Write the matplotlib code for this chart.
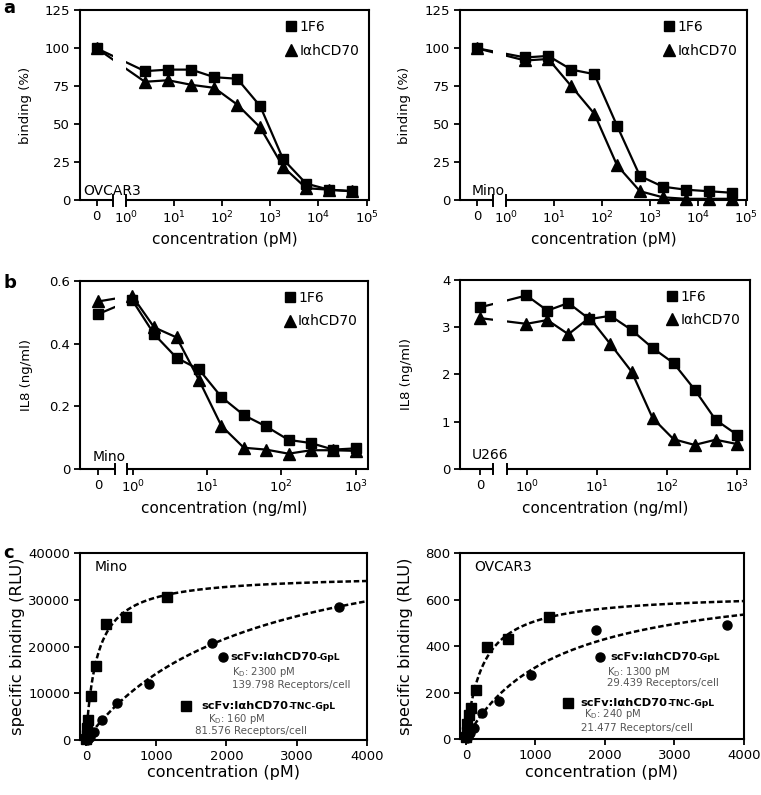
import numpy as np
import matplotlib
matplotlib.use("Agg")
import matplotlib.pyplot as plt
import matplotlib.transforms as mtransforms
from matplotlib.lines import Line2D

plt.rcParams['font.family'] = ['DejaVu Sans']
plt.rcParams['axes.linewidth'] = 1.5

# ---- a: competition binding, first value of each series = 0 pM control ----
conc_a = [2.5, 7.6, 23, 69, 206, 617, 1850, 5560, 16700, 50000]
ovcar3_1f6 = [100, 85, 86, 86, 81, 80, 62, 27, 11, 7, 6]
ovcar3_iahcd70 = [100, 78, 79, 76, 74, 63, 48, 22, 8, 7, 6]
mino_1f6 = [100, 94, 95, 86, 83, 49, 16, 9, 7, 6, 5]
mino_iahcd70 = [100, 92, 93, 75, 57, 23, 6, 2, 1, 1, 1]

# ---- b: IL8 release, first value = 0 ng/ml control ----
conc_b = [0.98, 1.95, 3.9, 7.8, 15.6, 31.3, 62.5, 125, 250, 500, 1000]
mino_il8_1f6 = [0.495, 0.54, 0.43, 0.355, 0.318, 0.23, 0.172, 0.136, 0.093, 0.083, 0.062, 0.066]
mino_il8_iahcd70 = [0.535, 0.553, 0.452, 0.42, 0.284, 0.138, 0.068, 0.062, 0.049, 0.06, 0.06, 0.058]
u266_il8_1f6 = [3.42, 3.67, 3.35, 3.51, 3.17, 3.24, 2.94, 2.56, 2.24, 1.68, 1.04, 0.73]
u266_il8_iahcd70 = [3.19, 3.07, 3.15, 2.85, 3.2, 2.64, 2.06, 1.08, 0.63, 0.51, 0.62, 0.53]

# ---- c: saturation binding ----
mino_tnc_x = [4.5, 9, 18, 36, 72, 144, 288, 575, 1150]
mino_tnc_y = [300, 1000, 2500, 4300, 9400, 15800, 24900, 26400, 30600]
mino_gpl_x = [14, 28, 56, 112, 225, 450, 900, 1800, 3600]
mino_gpl_y = [100, 300, 700, 1700, 4200, 8000, 11900, 20800, 28400]
ovcar3_tnc_x = [4.7, 9.4, 19, 37.5, 75, 150, 300, 600, 1200]
ovcar3_tnc_y = [10, 30, 65, 105, 135, 210, 397, 432, 525]
ovcar3_gpl_x = [15, 29, 59, 117, 235, 470, 940, 1875, 3750]
ovcar3_gpl_y = [5, 12, 26, 47, 112, 165, 277, 470, 492]

# one-site fits (Kd in pM, Bmax in RLU)
mino_fit = {'gpl': (2300, 46800), 'tnc': (160, 35400)}
ovcar3_fit = {'gpl': (1300, 709), 'tnc': (240, 629)}
mino_text = ['2300 pM', '139.798 Receptors/cell', '160 pM', '81.576 Receptors/cell']
ovcar3_text = ['1300 pM', '29.439 Receptors/cell', '240 pM', '21.477 Receptors/cell']

fig = plt.figure(figsize=(7.61, 7.95), dpi=100)

TICK = 9.5


def style(ax):
    ax.tick_params(direction='out', length=4, width=1.3, labelsize=TICK, pad=3,
                   top=False, right=False)


def dose_panel(rect, conc, sq, tri, zero_x, xlim, brk, ylim, yticks, yticklabels,
               ylabel, xlabel, cell, cell_xy, ndec, ylab_x):
    ax = fig.add_axes(rect)
    lx = np.log10(conc)
    for vals, mk, ms in [(sq, 's', 7.5), (tri, '^', 8.5)]:
        ax.plot(lx, vals[1:], color='k', lw=1.6, marker=mk, ms=ms, zorder=3, clip_on=False)
        ax.plot([zero_x, lx[0]], [vals[0], vals[1]], color='k', lw=1.6, marker=mk, ms=ms,
                markevery=[0], zorder=1.5, clip_on=False)
    ax.set_xlim(xlim)
    ax.set_ylim(ylim)
    ax.axvspan(brk[0], brk[1], color='white', lw=0, zorder=1.8)
    # broken x axis
    ax.spines['bottom'].set_visible(False)
    tr = mtransforms.blended_transform_factory(ax.transData, ax.transAxes)
    for xa, xb in [(xlim[0], brk[0]), (brk[1], xlim[1])]:
        ax.plot([xa, xb], [0, 0], color='k', lw=1.5, transform=tr, clip_on=False,
                solid_capstyle='butt', zorder=4)
    for xb in brk:
        ax.plot([xb, xb], [-0.028, 0.028], color='k', lw=1.4, transform=tr, clip_on=False, zorder=4)
    ax.set_xticks([zero_x] + list(range(ndec + 1)))
    ax.set_xticklabels(['0'] + ['10$^{%d}$' % k for k in range(ndec + 1)])
    ax.set_yticks(yticks)
    ax.set_yticklabels(yticklabels)
    style(ax)
    ax.set_ylabel(ylabel, fontsize=9.5)
    ax.yaxis.set_label_coords(ylab_x, 0.5)
    ax.set_xlabel(xlabel, fontsize=11)
    ax.text(cell_xy[0], cell_xy[1], cell, transform=ax.transAxes, fontsize=10,
            va='center', ha='left')
    handles = [Line2D([], [], color='k', marker='s', ms=7.5, ls='none'),
               Line2D([], [], color='k', marker='^', ms=8.5, ls='none')]
    ax.legend(handles, ['1F6', 'I\u03b1hCD70'], loc='upper right', frameon=False,
              fontsize=10, handlelength=0.8, handletextpad=0.2, labelspacing=0.7,
              borderaxespad=0.3, borderpad=0.4, bbox_to_anchor=(1.0, 1.0))
    return ax


def sat_panel(rect, xs_sq, ys_sq, xs_ci, ys_ci, fit, ylim, yticks, cell, texts, pos, ylab_x):
    ax = fig.add_axes(rect)
    xf = np.linspace(0, 4000, 400)
    for key in ['gpl', 'tnc']:
        kd, bmax = fit[key]
        ax.plot(xf, bmax * xf / (kd + xf), color='k', lw=1.8, ls=(0, (2.2, 1.1)), zorder=2)
    ax.plot(xs_sq, ys_sq, 's', color='k', ms=7, zorder=3, clip_on=False)
    ax.plot(xs_ci, ys_ci, 'o', color='k', ms=6.5, zorder=3, clip_on=False)
    ax.set_xlim(-85, 4000)
    ax.set_ylim(ylim)
    ax.set_xticks([0, 1000, 2000, 3000, 4000])
    ax.set_yticks(yticks)
    style(ax)
    ax.set_xlabel('concentration (pM)', fontsize=11.5, labelpad=2)
    ax.set_ylabel('specific binding (RLU)', fontsize=11.8)
    ax.yaxis.set_label_coords(ylab_x, 0.5)
    ax.text(0.05, 0.925, cell, transform=ax.transAxes, fontsize=10, va='center')
    grey = '#555555'
    for i, (mk, name) in enumerate([('o', '-GpL'), ('s', '-TNC-GpL')]):
        p = pos[i]
        ax.plot([p[0]], [p[1]], mk, color='k', ms=6.5 if mk == 'o' else 7,
                transform=ax.transAxes, clip_on=False)
        t1 = ax.text(p[2], p[1], 'scFv:I\u03b1hCD70', transform=ax.transAxes,
                     fontsize=8.2, fontweight='bold', va='center', ha='left')
        ax.annotate(name, xy=(1, 0), xycoords=t1, va='bottom', ha='left',
                    fontsize=6.6, fontweight='bold')
        ax.text(p[3], p[4], 'K$_\\mathrm{D}$: ' + texts[2 * i], transform=ax.transAxes,
                fontsize=7.2, color=grey, va='center')
        ax.text(p[5], p[6], texts[2 * i + 1], transform=ax.transAxes,
                fontsize=7.4, color=grey, va='center')
    return ax


ax1 = dose_panel([0.105, 0.748, 0.380, 0.239], conc_a, ovcar3_1f6, ovcar3_iahcd70,
                 -0.6, (-0.95, 5.05), (-0.27, 0.0), (0, 125), [0, 25, 50, 75, 100, 125],
                 ['0', '25', '50', '75', '100', '125'], 'binding (%)', 'concentration (pM)',
                 'OVCAR3', (0.01, 0.05), 5, -0.165)
ax2 = dose_panel([0.6045, 0.748, 0.377, 0.239], conc_a, mino_1f6, mino_iahcd70,
                 -0.6, (-0.96, 5.02), (-0.27, 0.0), (0, 125), [0, 25, 50, 75, 100, 125],
                 ['0', '25', '50', '75', '100', '125'], 'binding (%)', 'concentration (pM)',
                 'Mino', (0.04, 0.05), 5, -0.17)
ax3 = dose_panel([0.105, 0.410, 0.378, 0.2365], conc_b, mino_il8_1f6, mino_il8_iahcd70,
                 -0.46, (-0.71, 3.16), (-0.24, -0.08), (0, 0.6), [0, 0.2, 0.4, 0.6],
                 ['0', '0.2', '0.4', '0.6'], 'IL8 (ng/ml)', 'concentration (ng/ml)',
                 'Mino', (0.045, 0.064), 3, -0.163)
ax4 = dose_panel([0.6045, 0.410, 0.381, 0.238], conc_b, u266_il8_1f6, u266_il8_iahcd70,
                 -0.67, (-0.96, 3.19), (-0.49, -0.29), (0, 4), [0, 1, 2, 3, 4],
                 ['0', '1', '2', '3', '4'], 'IL8 (ng/ml)', 'concentration (ng/ml)',
                 'U266', (0.04, 0.074), 3, -0.162)

ax5 = sat_panel([0.105, 0.0692, 0.377, 0.235], mino_tnc_x, mino_tnc_y, mino_gpl_x, mino_gpl_y,
                mino_fit, (0, 40000), [0, 10000, 20000, 30000, 40000], 'Mino', mino_text,
                [(0.498, 0.444, 0.523, 0.530, 0.364, 0.530, 0.294),
                 (0.369, 0.182, 0.425, 0.446, 0.112, 0.40, 0.048)], -0.19)
ax6 = sat_panel([0.6045, 0.0704, 0.373, 0.234], ovcar3_tnc_x, ovcar3_tnc_y, ovcar3_gpl_x,
                ovcar3_gpl_y, ovcar3_fit, (0, 800), [0, 200, 400, 600, 800], 'OVCAR3',
                ovcar3_text,
                [(0.493, 0.441, 0.528, 0.518, 0.360, 0.518, 0.301),
                 (0.380, 0.194, 0.423, 0.437, 0.134, 0.426, 0.059)], -0.165)

for lab, y in [('a', 0.9836), ('b', 0.6377), ('c', 0.2981)]:
    fig.text(0.004, y, lab, fontsize=13, fontweight='bold', va='baseline', ha='left')

fig.savefig('out.png', dpi=100)
